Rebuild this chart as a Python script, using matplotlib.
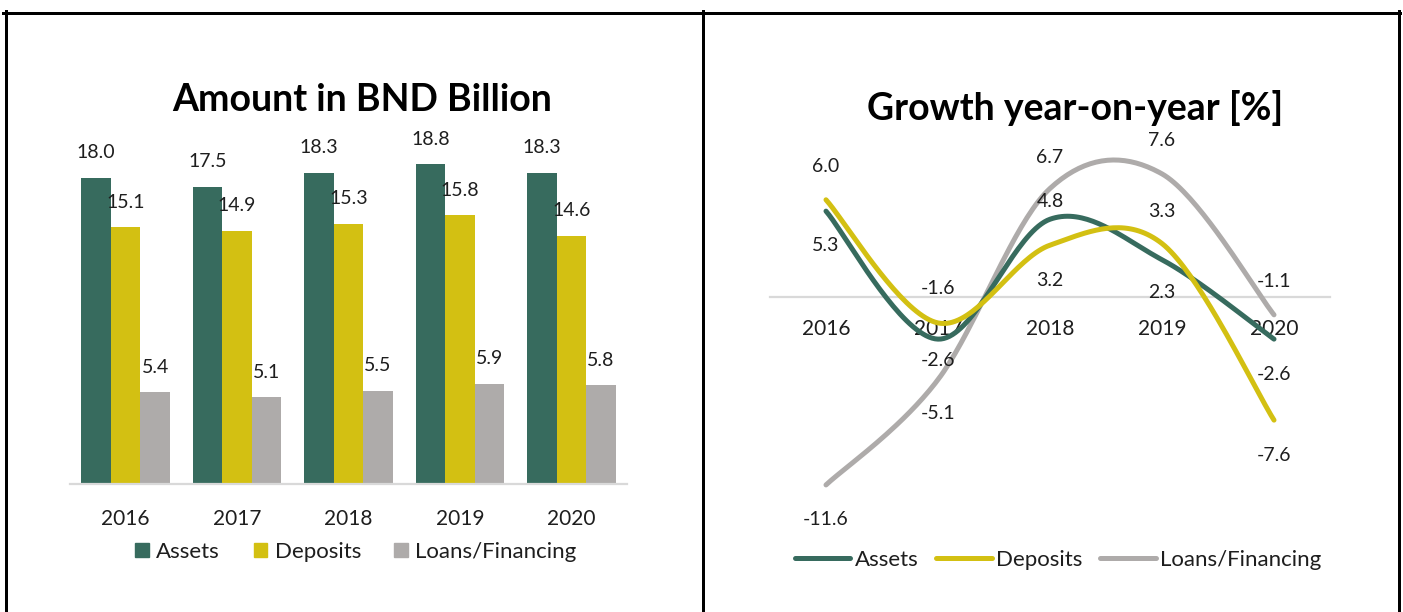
import numpy as np
import matplotlib
matplotlib.use("Agg")
import matplotlib.pyplot as plt
from matplotlib.lines import Line2D
from matplotlib.patches import Patch

plt.rcParams['font.family'] = ['Lato', 'DejaVu Sans']

# data
years = ['2016', '2017', '2018', '2019', '2020']
series = ['Assets', 'Deposits', 'Loans/Financing']
amount_assets = [18.0, 17.5, 18.3, 18.8, 18.3]
amount_deposits = [15.1, 14.9, 15.3, 15.8, 14.6]
amount_loans = [5.4, 5.1, 5.5, 5.9, 5.8]
growth_assets = [5.3, -2.6, 4.8, 2.3, -2.6]
growth_deposits = [6.0, -1.6, 3.2, 3.3, -7.6]
growth_loans = [-11.6, -5.1, 6.7, 7.6, -1.1]

colors = ['#376b5e', '#d3c012', '#aeabaa']
text_col = '#1e1e1e'
axis_col = '#d9d9d9'

W, H = 1403, 612
fig = plt.figure(figsize=(W / 100, H / 100), dpi=100)


def rect(left, top, right, bottom):
    return [left / W, 1 - bottom / H, (right - left) / W, (bottom - top) / H]


def smooth(y, n=40):
    # bezier smoothing through every point (spreadsheet-style smoothed line)
    pts = np.column_stack([np.arange(len(y)), y]).astype(float)
    ext = np.vstack([pts[0], pts, pts[-1]])
    t = np.linspace(0, 1, n)[:, None]
    out = []
    for i in range(len(pts) - 1):
        p0, p1, p2, p3 = ext[i], ext[i + 1], ext[i + 2], ext[i + 3]
        c1 = p1 + (p2 - p0) / 6
        c2 = p2 - (p3 - p1) / 6
        seg = (1 - t) ** 3 * p1 + 3 * (1 - t) ** 2 * t * c1 + 3 * (1 - t) * t ** 2 * c2 + t ** 3 * p2
        out.append(seg if i == 0 else seg[1:])
    return np.vstack(out)


# ---- left: amounts (bars) ----
ax1 = fig.add_axes(rect(70, 144, 627, 484))
x = np.arange(len(years))
bw = 0.265
for k, vals in enumerate([amount_assets, amount_deposits, amount_loans]):
    bars = ax1.bar(x + (k - 1) * bw, vals, bw, color=colors[k], label=series[k])
    for b, v in zip(bars, vals):
        ax1.annotate(f'{v:.1f}', (b.get_x() + b.get_width() / 2, v), xytext=(0, 18),
                     textcoords='offset points', ha='center', va='center',
                     fontsize=14, color=text_col)
ax1.set_xlim(-0.5, 4.5)
ax1.set_ylim(0, 20)
ax1.set_yticks([])
for s in ['left', 'right', 'top']:
    ax1.spines[s].set_visible(False)
ax1.spines['bottom'].set_color(axis_col)
ax1.spines['bottom'].set_linewidth(1.6)
ax1.set_xticks(x, years)
ax1.tick_params(axis='x', length=0, pad=18, labelsize=15, labelcolor=text_col)
ax1.set_facecolor('none')

fig.text(362 / W, 1 - 100 / H, 'Amount in BND Billion', ha='center', va='center',
         fontsize=27, fontweight='bold', color='black')

h1 = [Patch(color=c) for c in colors]
fig.legend(h1, series, loc='center', bbox_to_anchor=(356 / W, 1 - 552 / H), ncol=3,
           frameon=False, fontsize=16, handlelength=0.6, handleheight=0.6,
           handletextpad=0.35, columnspacing=1.5, labelcolor=text_col)

# ---- right: growth (smoothed lines) ----
ax2 = fig.add_axes(rect(770, 120, 1330, 510))
zero_y = 297
px_per_unit = 16.2
ax2.set_xlim(-0.5, 4.5)
ax2.set_ylim((zero_y - 510) / px_per_unit, (zero_y - 120) / px_per_unit)

# label offsets in pixels (positive = above the point)
offsets = [
    [-34, -21, 18, -33, -35],
    [33, 34, -35, 32, -35],
    [-35, -34, 31, 33, 33],
]
growth = [growth_assets, growth_deposits, growth_loans]
for k in [2, 0, 1]:
    vals = growth[k]
    curve = smooth(vals)
    ax2.plot(curve[:, 0], curve[:, 1], color=colors[k], lw=3.6, solid_capstyle='round',
             zorder=3, clip_on=False)
for k, vals in enumerate(growth):
    for i, v in enumerate(vals):
        ax2.annotate(f'{v:.1f}', (i, v), xytext=(0, offsets[k][i] * 0.72),
                     textcoords='offset points', ha='center', va='center',
                     fontsize=14, color=text_col, zorder=5)

ax2.set_yticks([])
for s in ['left', 'right', 'top']:
    ax2.spines[s].set_visible(False)
ax2.spines['bottom'].set_position(('data', 0))
ax2.spines['bottom'].set_color(axis_col)
ax2.spines['bottom'].set_linewidth(1.6)
ax2.set_xticks(x, years)
ax2.tick_params(axis='x', length=0, pad=16, labelsize=15, labelcolor=text_col)
ax2.set_axisbelow(True)
ax2.set_facecolor('none')

fig.text(1075 / W, 1 - 108 / H, 'Growth year-on-year [%]', ha='center', va='center',
         fontsize=27, fontweight='bold', color='black')

h2 = [Line2D([], [], color=c, lw=3.6, solid_capstyle='round') for c in colors]
fig.legend(h2, series, loc='center', bbox_to_anchor=(1058 / W, 1 - 560 / H), ncol=3,
           frameon=False, fontsize=16, handlelength=2.5, handletextpad=0.2,
           columnspacing=0.8, labelcolor=text_col)

# ---- panel borders ----
bw_lw = 3 * 0.72
fig.add_artist(Line2D([3 / W, 1400 / W], [1 - 12.5 / H] * 2, color='black', lw=bw_lw,
                      transform=fig.transFigure))
for xp in [5.5, 702.5, 1398.5]:
    fig.add_artist(Line2D([xp / W] * 2, [1 - 11 / H, 0], color='black', lw=bw_lw,
                          transform=fig.transFigure))

fig.savefig('out.png', dpi=100)
